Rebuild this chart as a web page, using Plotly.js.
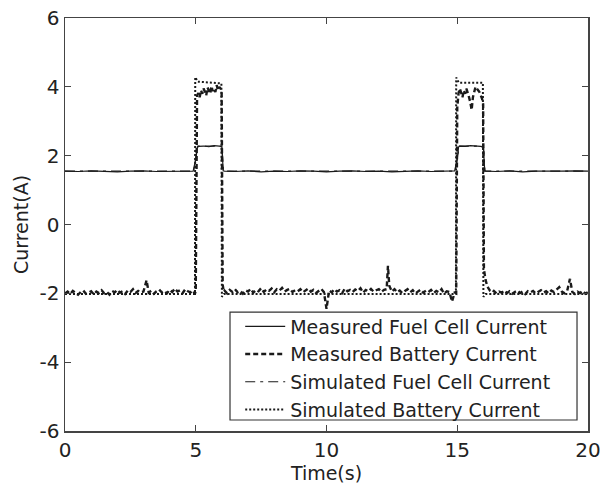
<!DOCTYPE html>
<html>
<head>
<meta charset="utf-8">
<script src="https://cdn.plot.ly/plotly-3.0.1.min.js"></script>
<style>html,body{margin:0;padding:0;background:#fff;}#chart{width:600px;height:487px;}</style>
</head>
<body>
<div id="chart"></div>
<script>
// ---- Data ----
const seriesNames = ["Measured Fuel Cell Current","Measured Battery Current","Simulated Fuel Cell Current","Simulated Battery Current"];

const measFuelT = [0,0.5,1,1.5,2,2.5,3,3.5,4,4.5,4.9,5.0,5.05,5.1,5.3,5.5,5.7,5.9,6.0,6.05,6.1,6.5,7,7.5,8,8.5,9,9.5,10,10.5,11,11.5,12,12.5,13,13.5,14,14.5,14.9,15.0,15.05,15.1,15.3,15.5,15.7,15.9,16.0,16.05,16.1,16.5,17,17.5,18,18.5,19,19.5,20];
const measFuelI = [1.55,1.54,1.56,1.55,1.53,1.55,1.56,1.54,1.55,1.56,1.55,1.9,2.22,2.27,2.28,2.26,2.29,2.28,2.25,1.56,1.55,1.54,1.56,1.53,1.55,1.54,1.56,1.55,1.53,1.55,1.56,1.54,1.55,1.53,1.55,1.56,1.54,1.55,1.56,1.9,2.25,2.28,2.27,2.29,2.28,2.27,2.24,1.56,1.55,1.54,1.56,1.53,1.55,1.54,1.55,1.56,1.55];

const measBattT = [
0.0,0.1,0.2,0.3,0.4,0.5,0.6,0.7,0.8,0.9,
1.0,1.1,1.2,1.3,1.4,1.5,1.6,1.7,1.8,1.9,
2.0,2.1,2.2,2.3,2.4,2.5,2.6,2.7,2.8,2.9,
3.0,3.12,3.2,3.3,3.4,3.5,3.6,3.7,3.8,3.9,
4.0,4.1,4.2,4.3,4.4,4.5,4.6,4.7,4.8,4.9,4.96,
5.0,5.05,5.1,5.15,5.2,5.25,5.3,5.35,5.4,5.45,5.5,5.55,5.6,5.65,5.7,5.75,5.8,5.85,5.9,5.95,5.99,
6.03,6.07,6.1,6.2,6.3,6.4,6.5,6.6,6.7,6.8,6.9,
7.0,7.1,7.2,7.3,7.4,7.5,7.6,7.7,7.8,7.9,
8.0,8.1,8.2,8.3,8.4,8.5,8.6,8.7,8.8,8.9,
9.0,9.1,9.2,9.3,9.4,9.5,9.6,9.7,9.8,9.9,
10.0,10.1,10.2,10.3,10.4,10.5,10.6,10.7,10.8,10.9,
11.0,11.1,11.2,11.3,11.4,11.5,11.6,11.7,11.8,11.9,
12.0,12.1,12.2,12.3,12.35,12.4,12.5,12.6,12.7,12.8,12.9,
13.0,13.1,13.2,13.3,13.4,13.5,13.6,13.7,13.8,13.9,
14.0,14.1,14.2,14.3,14.4,14.5,14.6,14.7,14.8,14.9,14.96,
15.0,15.05,15.1,15.15,15.2,15.25,15.3,15.35,15.4,15.45,15.5,15.55,15.6,15.65,15.7,15.75,15.8,15.85,15.9,15.95,15.99,
16.02,16.08,16.15,16.25,16.35,16.4,16.5,16.6,16.7,16.8,16.9,
17.0,17.1,17.2,17.3,17.4,17.5,17.6,17.7,17.8,17.9,
18.0,18.1,18.2,18.3,18.4,18.5,18.6,18.7,18.8,18.9,
19.0,19.1,19.2,19.31,19.4,19.5,19.6,19.7,19.8,19.9,20.0];
const measBattI = [
-2.0,-1.95,-2.02,-1.93,-1.98,-2.04,-1.96,-1.92,-2.01,-1.97,
-1.94,-2.03,-1.95,-1.99,-1.91,-2.0,-1.96,-2.04,-1.93,-1.97,
-1.9,-1.98,-1.94,-2.02,-1.92,-1.96,-1.88,-1.99,-1.93,-1.97,
-1.95,-1.62,-1.98,-1.92,-2.01,-1.94,-1.89,-1.97,-1.93,-2.0,
-1.9,-1.96,-1.86,-1.95,-1.91,-1.99,-1.88,-1.94,-1.97,-1.92,-2.02,
-1.95,3.75,3.82,3.7,3.9,3.8,3.95,3.85,3.75,3.98,3.9,3.8,4.02,3.88,3.95,3.85,4.05,3.9,4.0,3.95,3.9,
-1.75,-1.95,-1.92,-2.0,-1.9,-1.96,-1.88,-1.97,-1.93,-2.01,-1.91,
-1.95,-1.87,-1.98,-1.9,-1.94,-1.85,-1.96,-1.89,-1.93,-1.86,
-1.97,-1.88,-1.92,-1.84,-1.95,-1.9,-1.87,-1.96,-1.91,-1.94,
-1.88,-1.97,-1.92,-1.86,-1.95,-1.9,-1.99,-1.93,-1.87,-1.96,
-2.45,-1.92,-1.97,-1.88,-1.95,-1.91,-1.99,-1.86,-1.94,-1.9,
-1.96,-1.89,-1.93,-1.85,-1.98,-1.9,-1.94,-1.87,-1.95,-1.91,
-1.88,-1.96,-1.9,-1.88,-1.2,-1.78,-1.95,-1.88,-1.97,-1.92,-1.99,
-1.93,-1.88,-1.97,-1.91,-2.0,-1.94,-1.89,-1.98,-1.92,-1.96,
-1.9,-1.99,-1.93,-1.97,-1.88,-2.01,-1.94,-1.96,-2.24,-1.98,-2.0,
3.4,3.82,3.95,3.85,3.7,3.9,3.8,3.95,3.85,3.7,3.55,3.33,3.7,3.85,4.0,3.95,3.9,3.85,3.75,3.65,3.5,
-1.3,-1.6,-1.8,-1.92,-1.97,-1.93,-2.0,-1.95,-1.98,-1.92,-1.99,
-1.94,-2.01,-1.96,-1.92,-1.99,-1.95,-2.02,-1.94,-1.97,-1.93,
-2.0,-1.95,-1.91,-1.98,-1.94,-2.0,-1.92,-1.96,-1.88,-1.82,
-1.95,-2.0,-1.94,-1.58,-1.96,-2.02,-1.95,-1.99,-1.93,-2.01,-1.96];

const simFuelT = [0,4.92,5.08,6.0,6.06,14.92,15.08,16.0,16.06,20];
const simFuelI = [1.55,1.55,2.28,2.28,1.55,1.55,2.28,2.28,1.55,1.55];

const simBattT = [0,4.97,4.98,5.08,5.98,6.0,6.08,14.95,14.96,15.06,15.98,16.0,16.08,20];
const simBattI = [-2.02,-2.02,4.28,4.15,4.1,-2.1,-2.02,-2.02,4.27,4.12,4.12,-2.1,-2.02,-2.02];

const xTicks = [0,5,10,15,20];
const yTicks = [-6,-4,-2,0,2,4,6];
const xTitle = "Time(s)";
const yTitle = "Current(A)";

// ---- Traces ----
const ink = "#1a1a1a";
const traces = [
  {x: measFuelT, y: measFuelI, name: seriesNames[0], mode: "lines", line: {color: ink, width: 1.2}},
  {x: measBattT, y: measBattI, name: seriesNames[1], mode: "lines", line: {color: ink, width: 2.4, dash: "5px,3px"}},
  {x: simFuelT, y: simFuelI, name: seriesNames[2], mode: "lines", line: {color: ink, width: 1.2, dash: "10px,5px,3px,5px"}},
  {x: simBattT, y: simBattI, name: seriesNames[3], mode: "lines", line: {color: ink, width: 2, dash: "2px,2px"}}
];

const fontFam = "DejaVu Sans, Liberation Sans, Arial, sans-serif";
const layout = {
  width: 600, height: 487,
  margin: {l: 65, r: 12, t: 18, b: 56},
  paper_bgcolor: "#fff", plot_bgcolor: "#fff",
  font: {family: fontFam, size: 19, color: "#222"},
  showlegend: true,
  legend: {
    x: 0.335, y: 0.299, xanchor: "left", yanchor: "top",
    bgcolor: "rgba(0,0,0,0)", borderwidth: 0,
    font: {family: fontFam, size: 19, color: "#222"},
    itemwidth: 40, tracegroupgap: 0
  },
  shapes: [{
    type: "rect", xref: "paper", yref: "paper",
    x0: 0.3155, x1: 0.979, y0: 0.0266, y1: 0.288,
    line: {color: "#333", width: 1.2}, fillcolor: "#fff", layer: "above"
  }],
  xaxis: {
    range: [0, 20], tickvals: xTicks, ticktext: xTicks.map(String),
    ticks: "inside", ticklen: 6, tickcolor: "#444", tickwidth: 1.2,
    showline: true, linecolor: "#444", linewidth: 1.5, mirror: "ticks",
    showgrid: false, zeroline: false, ticklabeloverflow: "allow",
    tickfont: {family: fontFam, size: 20, color: "#222"},
    title: {text: xTitle, font: {family: fontFam, size: 19, color: "#222"}, standoff: 6}
  },
  yaxis: {
    range: [-6, 6], tickvals: yTicks, ticktext: yTicks.map(String),
    ticks: "inside", ticklen: 6, tickcolor: "#444", tickwidth: 1.2,
    showline: true, linecolor: "#444", linewidth: 1.5, mirror: "ticks",
    showgrid: false, zeroline: false, ticklabeloverflow: "allow",
    tickfont: {family: fontFam, size: 20, color: "#222"},
    title: {text: yTitle, font: {family: fontFam, size: 19, color: "#222"}, standoff: 6}
  }
};

Plotly.newPlot("chart", traces, layout, {staticPlot: true, displayModeBar: false});
</script>
</body>
</html>
